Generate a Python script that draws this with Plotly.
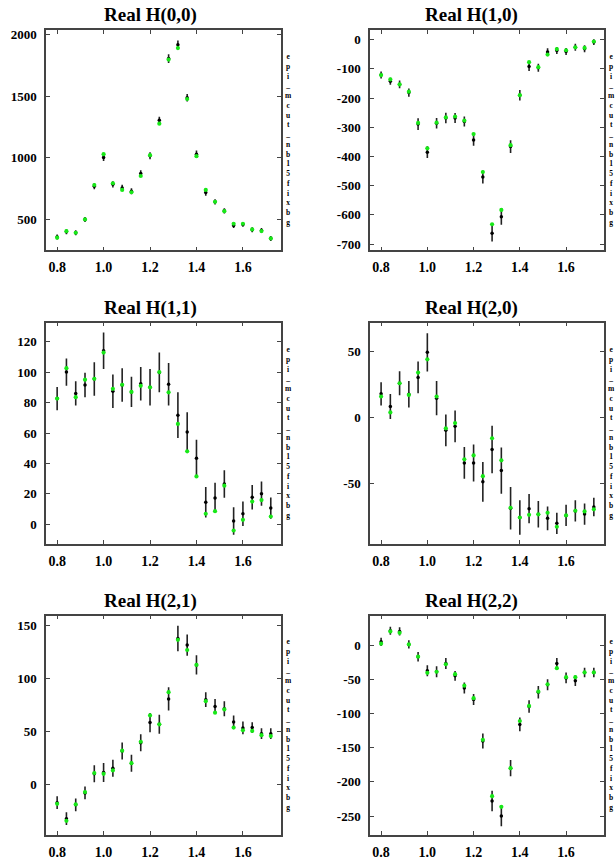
import plotly.graph_objects as go

mass = [0.80, 0.84, 0.88, 0.92, 0.96, 1.00, 1.04, 1.08, 1.12, 1.16, 1.20, 1.24,
        1.28, 1.32, 1.36, 1.40, 1.44, 1.48, 1.52, 1.56, 1.60, 1.64, 1.68, 1.72]

titles = ["Real H(0,0)", "Real H(1,0)", "Real H(1,1)", "Real H(2,0)", "Real H(2,1)", "Real H(2,2)"]
side_label = "epi_mcut_nb15fixbg"

h00_data = [357, 400, 392, 500, 770, 1004, 785, 756, 729, 874, 1017, 1305,
            1806, 1919, 1488, 1030, 718, 643, 570, 451, 460, 416, 411, 346]
h00_err = [20, 20, 20, 20, 25, 30, 25, 25, 25, 25, 28, 30,
           35, 35, 30, 30, 25, 22, 22, 20, 20, 20, 20, 20]
h00_fit = [352, 405, 392, 500, 780, 1030, 794, 740, 721, 853, 1022, 1278,
           1798, 1892, 1478, 1014, 740, 643, 567, 465, 465, 419, 406, 346]

h10_data = [-121, -142, -153, -181, -289, -385, -286, -268, -268, -280, -343, -470,
            -663, -606, -366, -190, -92, -96, -42, -37, -40, -26, -31, -8]
h10_err = [12, 12, 13, 14, 20, 20, 18, 18, 17, 17, 20, 22,
           28, 28, 22, 18, 15, 14, 13, 12, 12, 12, 12, 10]
h10_fit = [-121, -136, -153, -178, -285, -372, -284, -266, -263, -277, -323, -453,
           -632, -583, -361, -190, -77, -94, -51, -32, -36, -26, -28, -6]

h11_data = [82.6, 100, 86, 91.5, 95.4, 114, 87.4, 91.5, 87, 92.4, 90, 99.8,
            92, 71.7, 60.7, 43.5, 14.6, 17.4, 26.5, 2.2, 7, 17.8, 20.2, 10.7]
h11_err = [7.6, 9, 8, 8, 11, 12, 11, 11, 10, 11, 12, 13,
           14, 15, 13, 12, 10, 10, 9, 9, 8, 8, 8, 7]
h11_fit = [82.6, 102.6, 83.5, 95, 95.6, 112.8, 89, 91.7, 87, 91, 90, 100,
           86.7, 66, 48, 31.5, 7, 8.7, 25.4, -4, 3, 15, 16, 5.2]

h20_data = [17.6, 8, 25.6, 17.3, 30, 49, 14.3, -10, -7, -34.7, -34.7, -49,
            -24.6, -40.5, -69, -76, -69.3, -73.6, -76.6, -80.4, -74.4, -71, -73.4, -68]
h20_err = [8.8, 9.4, 9, 10, 12, 14.5, 13, 12, 12, 12, 14, 15,
           18, 17.5, 16, 13, 11, 10, 9, 8, 8, 8, 8, 7]
h20_fit = [15.6, 3.5, 25.6, 16.8, 33.7, 43.7, 15.6, -8.5, -4.5, -32, -29, -44.7,
           -16, -32.7, -68.6, -76, -74, -73.6, -72.4, -83, -74.4, -70.9, -71.4, -69.8]

h21_data = [-17, -32, -19, -7.8, 10.2, 11.5, 15.5, 31.7, 20.2, 39.4, 58.4, 56.8,
            80.7, 137.6, 131.4, 112.7, 80, 73.6, 71.4, 59, 53.4, 53.7, 48, 48]
h21_err = [6, 6, 6, 6, 8, 9, 8, 8, 8, 8, 9, 9,
           11, 12, 10, 9, 7, 7, 7, 6, 6, 5, 5, 5]
h21_fit = [-18, -34, -18.6, -7, 10.9, 10.2, 13.4, 32, 20.2, 40.4, 65.2, 56.8,
           87, 136.3, 126.7, 112.7, 78.6, 67.7, 70.8, 53.7, 51.2, 50.6, 46.6, 45.7]

h22_data = [4.8, 21, 20, 1, -17, -37.6, -39, -27, -45, -62.7, -79.6, -140.4,
            -228, -250, -180, -116, -89.8, -69, -58, -27, -48, -52, -40, -40]
h22_err = [6, 6, 6, 6, 7, 8, 8, 8, 7, 8, 8, 11,
           15, 15, 12, 10, 9, 9, 8, 8, 8, 8, 7, 7]
h22_fit = [2, 20, 18, 1, -17, -40.5, -39, -28, -42.5, -59.4, -77.7, -138.5,
           -221, -236.5, -180, -111, -89, -68, -57.4, -33.8, -47, -47, -40, -40]

y_ranges = [[250, 2040], [-721, 34], [-13, 132.4], [-96.2, 71.4], [-47.5, 159], [-278, 43]]
y_ticks = [[500, 1000, 1500, 2000],
           [0, -100, -200, -300, -400, -500, -600, -700],
           [0, 20, 40, 60, 80, 100, 120],
           [-50, 0, 50],
           [0, 50, 100, 150],
           [0, -50, -100, -150, -200, -250]]
x_ticks = [0.8, 1.0, 1.2, 1.4, 1.6]

panels = [(h00_data, h00_err, h00_fit), (h10_data, h10_err, h10_fit),
          (h11_data, h11_err, h11_fit), (h20_data, h20_err, h20_fit),
          (h21_data, h21_err, h21_fit), (h22_data, h22_err, h22_fit)]

W, H = 616, 860
col_px = [(46, 281), (370, 604)]
row_px = [(28, 250), (323, 546), (618, 839)]
title_x_px = [150, 471]
side_x_px = [288, 611]

FONT = "Liberation Serif, Times New Roman, serif"
fig = go.Figure()
layout = dict(width=W, height=H, margin=dict(l=0, r=0, t=0, b=0),
              paper_bgcolor="white", plot_bgcolor="white", showlegend=False,
              font=dict(family=FONT, color="black"))
annotations = []

def bold(v):
    return f"<b>{v}</b>"

for i, (dat, err, fit) in enumerate(panels):
    r, c = divmod(i, 2)
    n = i + 1
    xa = "x" if n == 1 else f"x{n}"
    ya = "y" if n == 1 else f"y{n}"
    fig.add_trace(go.Scatter(x=mass, y=dat, mode="markers", xaxis=xa, yaxis=ya,
                             marker=dict(color="black", size=3.5),
                             error_y=dict(type="data", array=err, visible=True,
                                          color="#222222", thickness=1.6, width=0)))
    fig.add_trace(go.Scatter(x=mass, y=fit, mode="markers", xaxis=xa, yaxis=ya,
                             marker=dict(color="#18e818", size=4.2)))
    x0, x1 = col_px[c]
    y0, y1 = row_px[r]
    xdom = [x0 / W, x1 / W]
    ydom = [1 - y1 / H, 1 - y0 / H]
    axis_common = dict(showline=True, linecolor="#444444", linewidth=1.5, mirror="ticks",
                       ticks="inside", ticklen=4, tickwidth=1, tickcolor="#444444",
                       showgrid=False, zeroline=False)
    layout["xaxis" if n == 1 else f"xaxis{n}"] = dict(
        domain=xdom, range=[0.752, 1.764], anchor=ya, tickvals=x_ticks,
        ticktext=[bold(f"{v:.1f}") for v in x_ticks],
        tickfont=dict(family=FONT, size=14, color="black"),
        ticklabelstandoff=3, **axis_common)
    layout["yaxis" if n == 1 else f"yaxis{n}"] = dict(
        domain=ydom, range=y_ranges[i], anchor=xa, tickvals=y_ticks[i],
        ticktext=[bold(v) for v in y_ticks[i]],
        tickfont=dict(family=FONT, size=13, color="black"),
        ticklabelstandoff=5, **axis_common)
    annotations.append(dict(text=bold(titles[i]), xref="paper", yref="paper",
                            x=title_x_px[c] / W, y=1 - (y0 - 15) / H,
                            xanchor="center", yanchor="middle", showarrow=False,
                            font=dict(family=FONT, size=19, color="black")))
    annotations.append(dict(text="<br>".join(bold(ch) for ch in side_label),
                            xref="paper", yref="paper",
                            x=side_x_px[c] / W, y=1 - ((y0 + y1) / 2 - 1) / H,
                            xanchor="center", yanchor="middle", showarrow=False,
                            align="center",
                            font=dict(family=FONT, size=7.5, color="black")))

layout["annotations"] = annotations
fig.update_layout(**layout)
fig.write_html("out.html")
